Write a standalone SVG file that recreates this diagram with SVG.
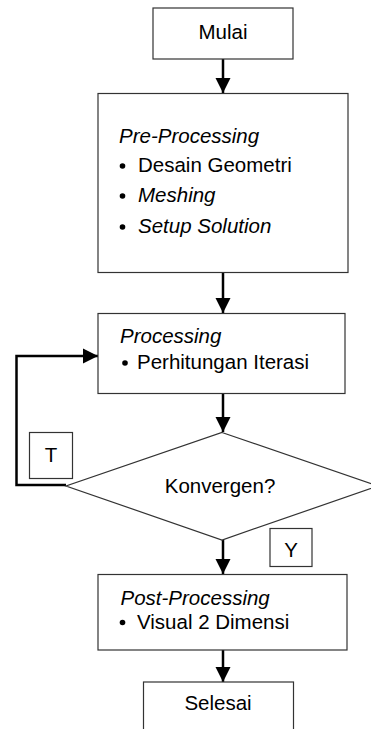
<svg xmlns="http://www.w3.org/2000/svg" width="371" height="729" viewBox="0 0 371 729">
<defs>
<marker id="ah" markerWidth="15" markerHeight="16" refX="15" refY="8" orient="auto" markerUnits="userSpaceOnUse">
<path d="M0,0.5 L15,8 L0,15.5 Z" fill="#000"/>
</marker>
<style>
.box{fill:#fff;stroke:#333;stroke-width:1.2}
.t{font-family:"Liberation Sans",Arial,sans-serif;font-size:20.5px;fill:#000}
.i{font-style:italic}
.c{text-anchor:middle}
.con{fill:none;stroke:#000;stroke-width:2.5}
.b{fill:#000}
</style>
</defs>
<rect width="371" height="729" fill="#fff"/>
<g id="connectors">
<line class="con" x1="223" y1="59" x2="223" y2="93" marker-end="url(#ah)"/>
<line class="con" x1="223" y1="273" x2="223" y2="313" marker-end="url(#ah)"/>
<line class="con" x1="223" y1="393" x2="223" y2="432" marker-end="url(#ah)"/>
<polyline class="con" points="66,485 16.5,485 16.5,356 98,356" marker-end="url(#ah)"/>
<line class="con" x1="223" y1="540" x2="223" y2="574" marker-end="url(#ah)"/>
<line class="con" x1="223" y1="650" x2="223" y2="682" marker-end="url(#ah)"/>
</g>
<g id="mulai">
<rect class="box" x="153" y="8" width="140" height="51"/>
<text class="t c" x="223" y="39">Mulai</text>
</g>
<g id="preprocessing">
<rect class="box" x="98" y="93.5" width="250" height="179"/>
<text class="t i" x="119" y="143">Pre-Processing</text>
<circle class="b" cx="122.5" cy="166" r="2.8"/>
<text class="t" x="138" y="172">Desain Geometri</text>
<circle class="b" cx="122.5" cy="196" r="2.8"/>
<text class="t i" x="138" y="202">Meshing</text>
<circle class="b" cx="122.5" cy="227" r="2.8"/>
<text class="t i" x="138" y="233">Setup Solution</text>
</g>
<g id="processing">
<rect class="box" x="98" y="313.5" width="247" height="80"/>
<text class="t i" x="120" y="343">Processing</text>
<circle class="b" cx="125" cy="363" r="2.8"/>
<text class="t" x="137" y="369">Perhitungan Iterasi</text>
</g>
<g id="konvergen">
<polygon class="box" points="222,432.5 378,486 222,540 66,486"/>
<text class="t c" x="220" y="493">Konvergen?</text>
</g>
<g id="label-t">
<rect class="box" x="29.5" y="432.5" width="43" height="46"/>
<text class="t c" x="51" y="462">T</text>
</g>
<g id="label-y">
<rect class="box" x="270" y="528.5" width="42" height="38"/>
<text class="t c" x="291" y="557">Y</text>
</g>
<g id="postprocessing">
<rect class="box" x="98" y="574.5" width="249" height="75.5"/>
<text class="t i" x="120.5" y="605">Post-Processing</text>
<circle class="b" cx="122.5" cy="622.5" r="2.8"/>
<text class="t" x="137" y="628.5">Visual 2 Dimensi</text>
</g>
<g id="selesai">
<rect class="box" x="143.5" y="682" width="150" height="60"/>
<text class="t c" x="218" y="709.5">Selesai</text>
</g>
</svg>
